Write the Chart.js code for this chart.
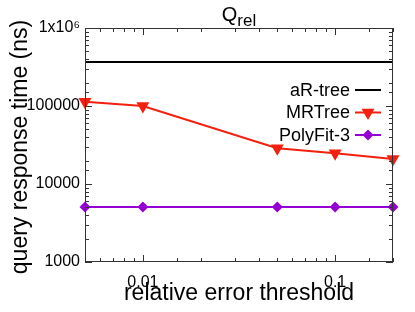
<!DOCTYPE html>
<html>
<head>
<meta charset="utf-8">
<script src="https://cdn.jsdelivr.net/npm/chart.js@4/dist/chart.umd.min.js"></script>
<style>
  body { margin: 0; background: #fff; }
  canvas { display: block; }
</style>
</head>
<body>
<canvas id="chart" width="415" height="312"></canvas>
<script>
// values
const thresholds = [0.005, 0.01, 0.05, 0.1, 0.2];
const arTree = [366000, 366000, 366000, 366000, 366000];
const mrTree = [113000, 100000, 28700, 24700, 20900];
const polyFit3 = [5070, 5070, 5070, 5070, 5070];
const xLabels = [0.01, 0.1];
const yLabels = [1000, 10000, 100000, 1000000];

const FONT = '"Liberation Sans", Arial, sans-serif';
const RED = '#f3200f';
const PURPLE = '#9400d3';

const series = [
  { label: 'aR-tree', values: arTree, color: '#000000', style: false, radius: 0, rotation: 0 },
  { label: 'MRTree', values: mrTree, color: RED, style: 'triangle', radius: 7.5, rotation: 180 },
  { label: 'PolyFit-3', values: polyFit3, color: PURPLE, style: 'rectRot', radius: 5.5, rotation: 0 }
];

const isDecade = v => Math.abs(Math.log10(v) - Math.round(Math.log10(v))) < 1e-9;

// frame, inward ticks on all sides, titles and legend (gnuplot look)
const gnuplotLook = {
  id: 'gnuplotLook',
  afterDraw(chart) {
    const ctx = chart.ctx;
    const a = chart.chartArea;
    const xs = chart.scales.x, ys = chart.scales.y;
    ctx.save();
    ctx.strokeStyle = '#333';
    ctx.lineWidth = 1;
    ctx.strokeRect(a.left + 0.5, a.top + 0.5, a.right - a.left - 1, a.bottom - a.top - 1);

    ctx.beginPath();
    xs.ticks.forEach(t => {
      const px = Math.round(xs.getPixelForValue(t.value)) + 0.5;
      const len = isDecade(t.value) ? 7 : 4;
      ctx.moveTo(px, a.bottom); ctx.lineTo(px, a.bottom - len);
      ctx.moveTo(px, a.top); ctx.lineTo(px, a.top + len);
    });
    ys.ticks.forEach(t => {
      const py = Math.round(ys.getPixelForValue(t.value)) + 0.5;
      const len = isDecade(t.value) ? 7 : 4;
      ctx.moveTo(a.left, py); ctx.lineTo(a.left + len, py);
      ctx.moveTo(a.right, py); ctx.lineTo(a.right - len, py);
    });
    ctx.stroke();

    ctx.fillStyle = '#000';
    // title Q_rel
    ctx.textBaseline = 'alphabetic';
    ctx.textAlign = 'left';
    ctx.font = '20px ' + FONT;
    const qW = ctx.measureText('Q').width;
    ctx.font = '17px ' + FONT;
    const rW = ctx.measureText('rel').width;
    const cx = (a.left + a.right) / 2;
    const x0 = cx - (qW + rW) / 2;
    ctx.font = '20px ' + FONT;
    ctx.fillText('Q', x0, 21);
    ctx.font = '17px ' + FONT;
    ctx.fillText('rel', x0 + qW, 26);

    // axis titles
    ctx.font = '23px ' + FONT;
    ctx.textAlign = 'center';
    ctx.fillText('relative error threshold', cx, 300);
    ctx.save();
    ctx.translate(27, 147);
    ctx.rotate(-Math.PI / 2);
    ctx.fillText('query response time (ns)', 0, 0);
    ctx.restore();

    // legend
    ctx.font = '18px ' + FONT;
    ctx.textAlign = 'right';
    ctx.textBaseline = 'middle';
    series.forEach((s, i) => {
      const y = 90 + i * 22.5;
      ctx.fillStyle = '#000';
      ctx.fillText(s.label, 350, y + 1);
      ctx.strokeStyle = s.color;
      ctx.lineWidth = 2;
      ctx.beginPath();
      ctx.moveTo(355, y); ctx.lineTo(381, y);
      ctx.stroke();
      if (s.style) {
        ctx.fillStyle = s.color;
        Chart.helpers.drawPoint(ctx, { pointStyle: s.style, radius: s.radius, rotation: s.rotation, borderWidth: 0 }, 368, y);
      }
    });
    ctx.restore();
  }
};

new Chart(document.getElementById('chart'), {
  type: 'line',
  data: {
    datasets: series.map(s => ({
      label: s.label,
      data: thresholds.map((x, i) => ({ x: x, y: s.values[i] })),
      borderColor: s.color,
      backgroundColor: s.color,
      borderWidth: 2,
      pointStyle: s.style || 'circle',
      pointRadius: s.radius,
      pointRotation: s.rotation,
      pointBorderWidth: 0,
      tension: 0,
      clip: false
    }))
  },
  options: {
    responsive: false,
    animation: false,
    layout: { padding: { left: 0, right: 22, top: 28, bottom: 0 } },
    plugins: { legend: { display: false }, tooltip: { enabled: false } },
    scales: {
      x: {
        type: 'logarithmic',
        min: 0.005,
        max: 0.2,
        grid: { display: false },
        border: { display: false },
        afterFit: s => { s.height = 50; },
        ticks: {
          autoSkip: false,
          maxRotation: 0,
          padding: 3,
          color: '#000',
          font: { family: FONT, size: 16 },
          callback: v => xLabels.some(l => Math.abs(l - v) < 1e-9) ? String(v) : ''
        }
      },
      y: {
        type: 'logarithmic',
        min: 1000,
        max: 1000000,
        grid: { display: false, drawTicks: false },
        border: { display: false },
        afterFit: s => { s.width = 85; },
        ticks: {
          autoSkip: false,
          padding: 5,
          color: '#000',
          font: { family: FONT, size: 16 },
          callback: v => {
            if (!yLabels.includes(v)) return '';
            return v === 1000000 ? '1x10\u2076' : String(v);
          }
        }
      }
    }
  },
  plugins: [gnuplotLook]
});
</script>
</body>
</html>
